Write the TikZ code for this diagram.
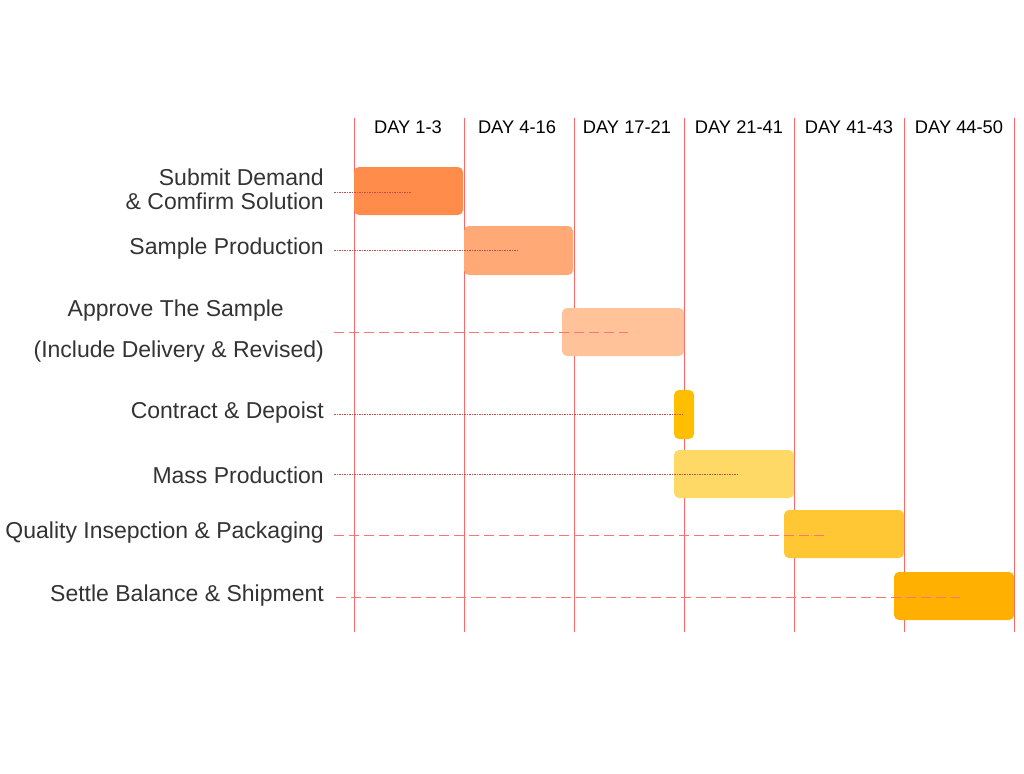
\documentclass[tikz,border=0pt]{standalone}
\usepackage{fontspec}
\setmainfont{Liberation Sans}
\begin{document}
\begin{tikzpicture}[x=1pt,y=-1pt,
  vline/.style={draw=red!60!white,line width=0.8pt},
  bar/.style={rounded corners=5pt,draw=none},
  lab/.style={anchor=east,text=black!80,font=\fontsize{23}{24}\selectfont,align=right,inner sep=0pt},
  hdr/.style={text=black,font=\fontsize{18.3}{20}\selectfont},
  dotl/.style={draw=red!70!black!70,line width=0.5pt,dash pattern=on 1.5pt off 1pt},
  dashl/.style={draw=red!55!white,line width=0.9pt,dash pattern=on 10pt off 5pt}]
\useasboundingbox (0,0) rectangle (1024,773);
\foreach \x [count=\i] in {354,464,574,684,794,904,1014}{
  \coordinate (t\i) at (\x,118); \coordinate (b\i) at (\x,632);
  \draw[vline] (t\i) -- (b\i);}
\foreach \c/\t in {408/DAY 1-3,517/DAY 4-16,627/DAY 17-21,739/DAY 21-41,849/DAY 41-43,959/DAY 44-50}
  \node[hdr] (h\c) at (\c,127) {\t};
\fill[bar,fill={rgb,255:red,255;green,140;blue,74}] (354,167) rectangle (463,215);
\fill[bar,fill={rgb,255:red,255;green,170;blue,118}] (464,226) rectangle (573,275);
\fill[bar,fill={rgb,255:red,255;green,194;blue,153}] (562,308) rectangle (684,356);
\fill[bar,fill={rgb,255:red,255;green,191;blue,0}] (674,390) rectangle (694,439);
\fill[bar,fill={rgb,255:red,255;green,217;blue,102}] (674,450) rectangle (794,498);
\fill[bar,fill={rgb,255:red,255;green,199;blue,51}] (784,510) rectangle (904,558);
\fill[bar,fill={rgb,255:red,255;green,176;blue,0}] (894,572) rectangle (1014,620);
\node[lab] (l1) at (324,189) {Submit Demand\\\& Comfirm Solution};
\node[lab] (l2) at (324,249) {Sample Production};
\node[lab] (l3a) at (284,311) {Approve The Sample};
\node[lab] (l3b) at (324,352) {(Include Delivery \& Revised)};
\node[lab] (l4) at (324,413) {Contract \& Depoist};
\node[lab] (l5) at (324,475) {Mass Production};
\node[lab] (l6) at (324,533) {Quality Insepction \& Packaging};
\node[lab] (l7) at (324,596) {Settle Balance \& Shipment};
\coordinate (s1) at (334,192); \coordinate (e1) at (411,192);
\coordinate (s2) at (334,250); \coordinate (e2) at (519,250);
\coordinate (s3) at (334,332); \coordinate (e3) at (628,332);
\coordinate (s4) at (334,414); \coordinate (e4) at (684,414);
\coordinate (s5) at (334,474); \coordinate (e5) at (738,474);
\coordinate (s6) at (334,535); \coordinate (e6) at (827,535);
\coordinate (s7) at (336,597); \coordinate (e7) at (960,597);
\draw[dotl] (s1) -- (e1); \draw[dotl] (s2) -- (e2);
\draw[dashl] (s3) -- (e3); \draw[dotl] (s4) -- (e4);
\draw[dotl] (s5) -- (e5); \draw[dashl] (s6) -- (e6);
\draw[dashl] (s7) -- (e7);
\end{tikzpicture}
\end{document}
